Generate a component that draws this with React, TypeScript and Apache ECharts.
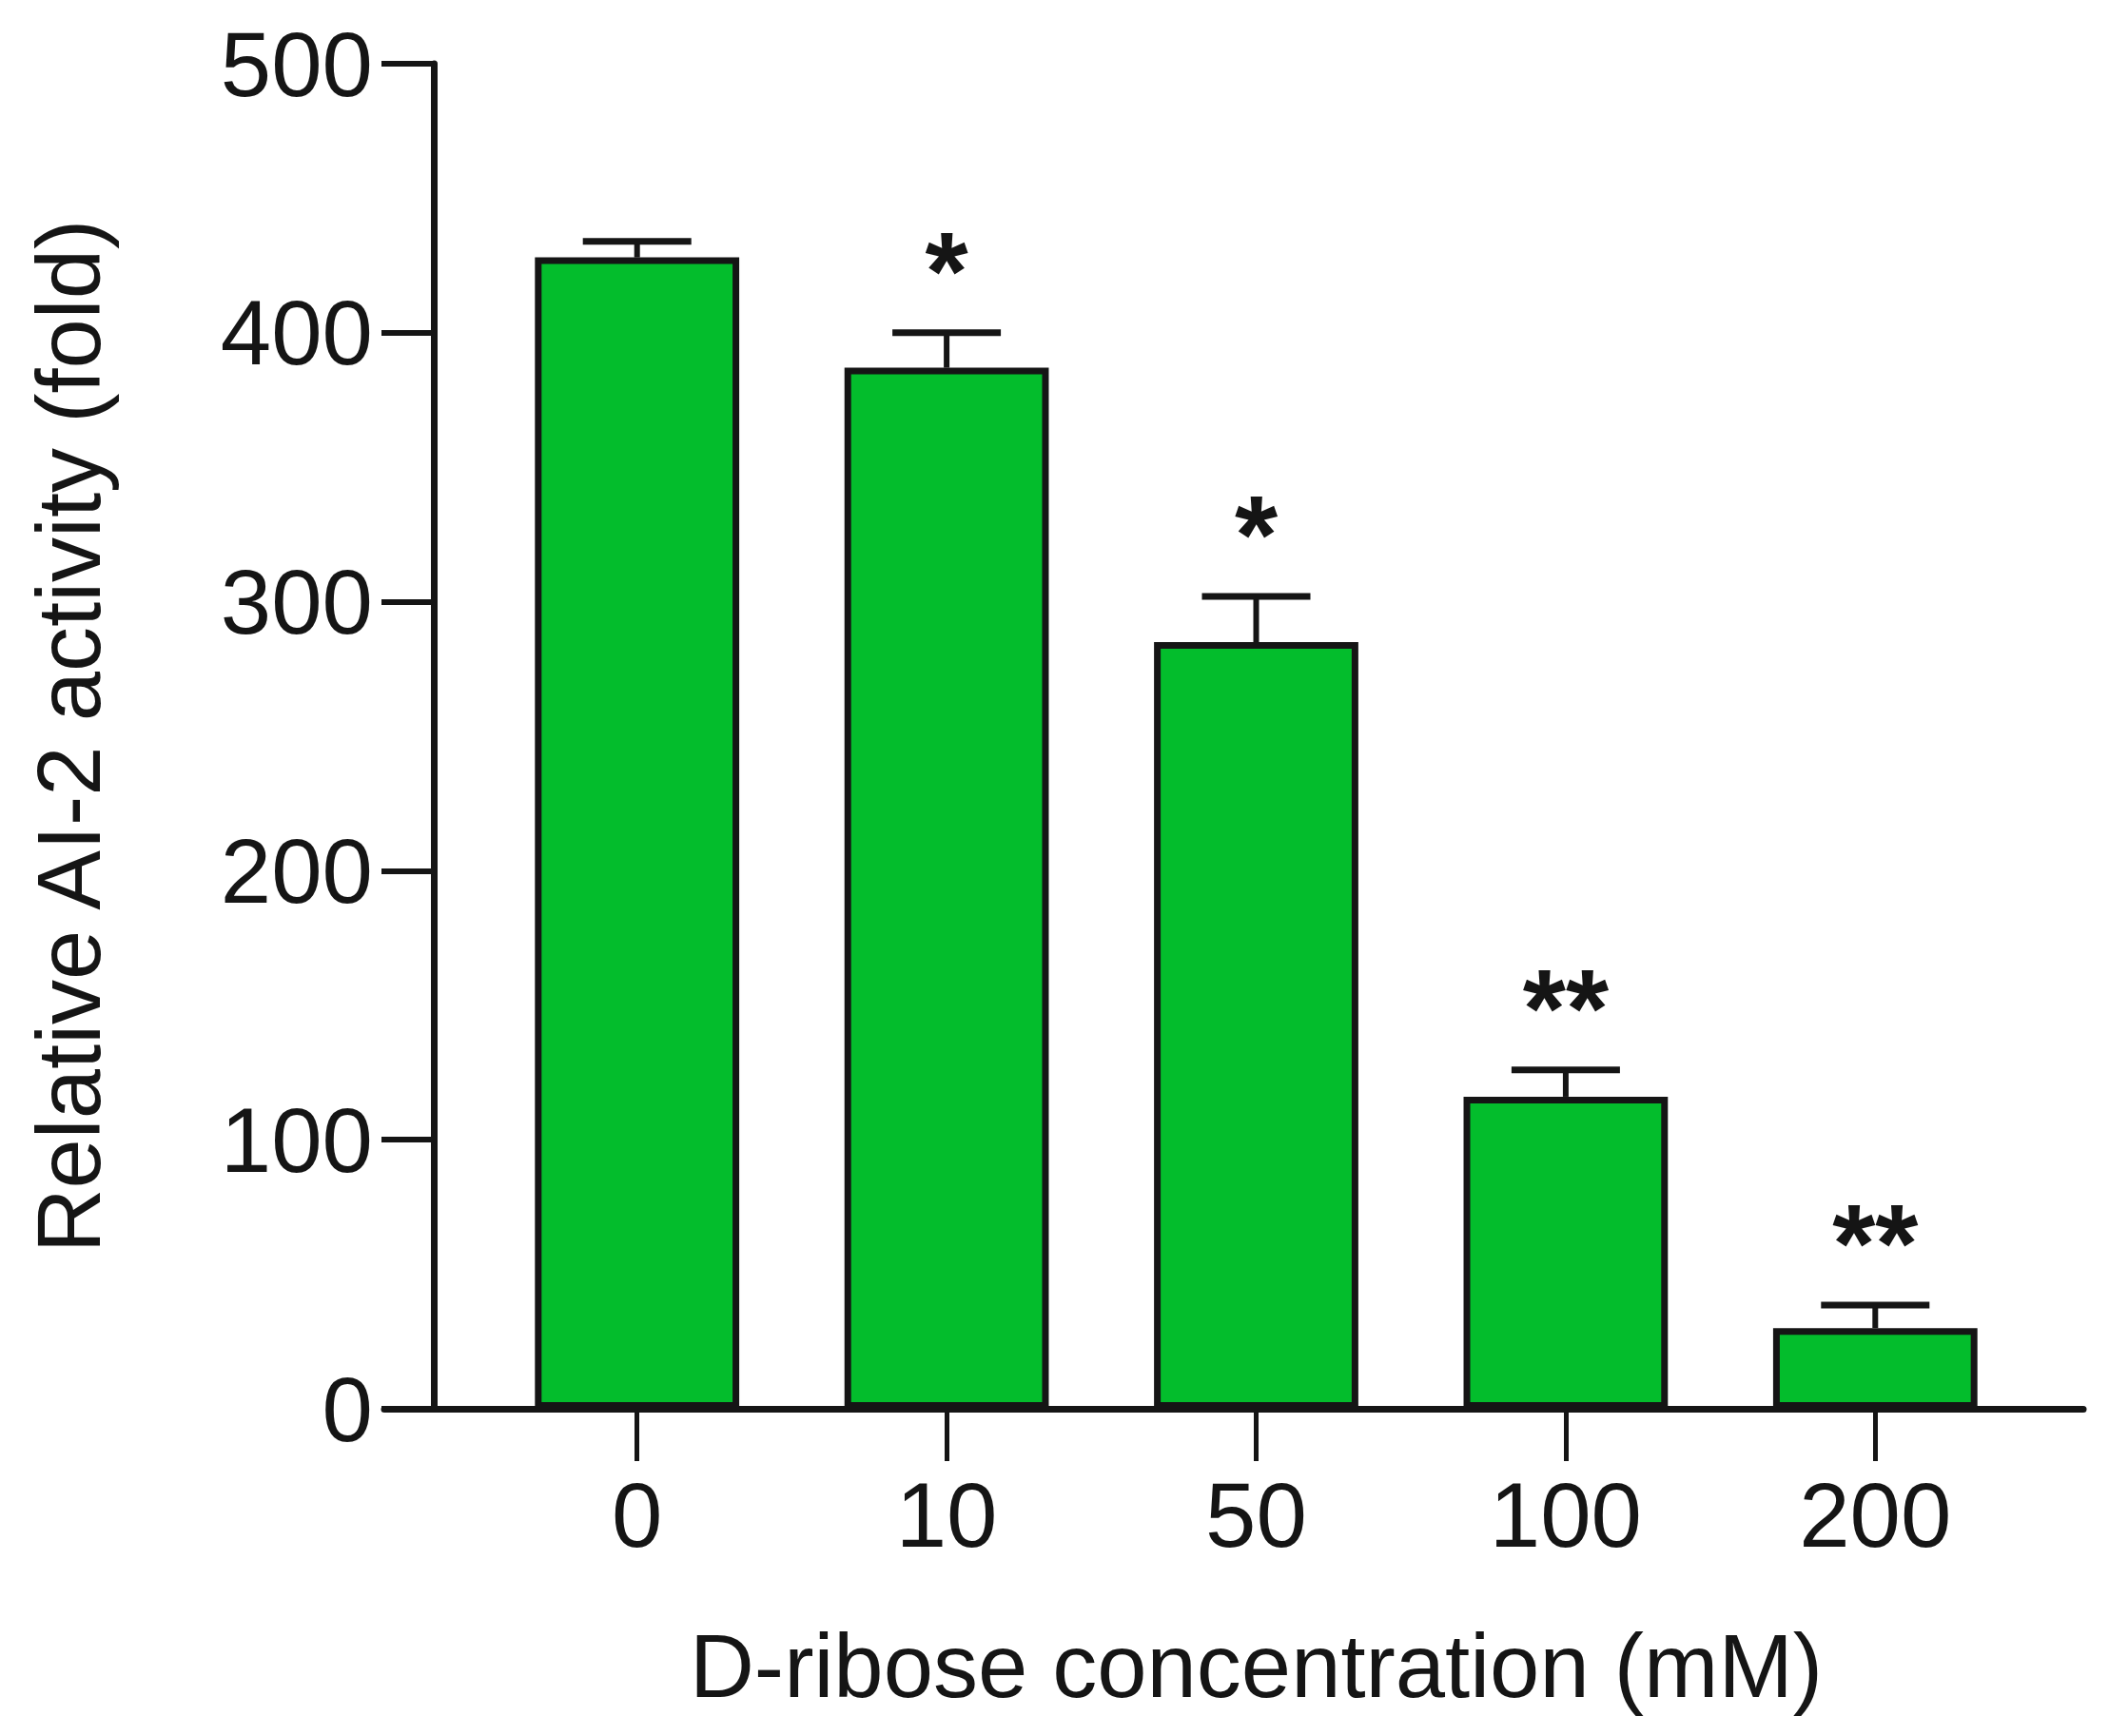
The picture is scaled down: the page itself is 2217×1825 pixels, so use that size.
import React, { useEffect, useRef } from "react";
import * as echarts from "echarts";

const categories = ["0", "10", "50", "100", "200"];
const means = [428, 387, 285, 116, 30];
const errors = [6, 13, 17, 10, 8.5];
const stars = ["", "*", "*", "**", "**"];
const yMin = 0;
const yMax = 500;
const yInterval = 100;

const FONT = "'Liberation Sans', Arial, Helvetica, sans-serif";
const INK = "#151515";
const GREEN = "#03bd2c";

export default function App() {
  const ref = useRef<HTMLDivElement>(null);
  useEffect(() => {
    if (!ref.current) return;
    const chart = echarts.init(ref.current, undefined, { renderer: "svg" });
    const option: any = {
      animation: false,
      backgroundColor: "#ffffff",
      grid: [
        { left: 507, right: 83, top: 67, bottom: 344, outerBoundsMode: "none" },
        { left: 404, right: 27, top: 67, bottom: 344, outerBoundsMode: "none" },
      ],
      xAxis: [
        {
          type: "category",
          gridIndex: 0,
          data: categories,
          axisLine: { show: false },
          axisTick: { show: true, alignWithLabel: true, length: 55, lineStyle: { width: 5, color: INK } },
          axisLabel: { margin: 63, fontSize: 96, color: INK, fontFamily: FONT },
          splitLine: { show: false },
          name: "D-ribose concentration (mM)",
          nameLocation: "middle",
          nameGap: 223,
          nameTextStyle: { fontSize: 94, color: INK, fontFamily: FONT },
        },
        {
          type: "value",
          gridIndex: 1,
          min: 0,
          max: 1,
          axisLine: { show: true, onZero: false, lineStyle: { width: 7, color: INK } },
          axisTick: { show: false },
          axisLabel: { show: false },
          splitLine: { show: false },
        },
      ],
      yAxis: [
        {
          type: "value",
          gridIndex: 0,
          min: yMin,
          max: yMax,
          interval: yInterval,
          offset: 51,
          axisLine: { show: true, onZero: false, lineStyle: { width: 7, color: INK } },
          axisTick: { show: true, length: 55, lineStyle: { width: 6, color: INK } },
          axisLabel: { margin: 64, fontSize: 96, color: INK, fontFamily: FONT },
          splitLine: { show: false },
          name: "Relative AI-2 activity (fold)",
          nameLocation: "middle",
          nameRotate: 90,
          nameGap: 337,
          nameTextStyle: { fontSize: 94, color: INK, fontFamily: FONT },
        },
        { type: "value", gridIndex: 1, min: 0, max: 1, show: false },
      ],
      series: [
        {
          type: "bar",
          xAxisIndex: 0,
          yAxisIndex: 0,
          data: means,
          barWidth: "66%",
          itemStyle: { color: GREEN, borderColor: INK, borderWidth: 7 },
          z: 2,
        },
        {
          type: "custom",
          xAxisIndex: 0,
          yAxisIndex: 0,
          z: 3,
          encode: { x: 0, y: 1 },
          data: means.map((m, i) => [i, m, errors[i]]),
          renderItem: (params: any, api: any) => {
            const i = api.value(0);
            const m = api.value(1);
            const e = api.value(2);
            const p0 = api.coord([i, m]);
            const p1 = api.coord([i, m + e]);
            const x = p0[0];
            const children: any[] = [
              { type: "line", shape: { x1: x, y1: p0[1], x2: x, y2: p1[1] }, style: { stroke: INK, lineWidth: 6 } },
              { type: "line", shape: { x1: x - 57, y1: p1[1], x2: x + 57, y2: p1[1] }, style: { stroke: INK, lineWidth: 7 } },
            ];
            const s = stars[params.dataIndex];
            if (s) {
              children.push({
                type: "text",
                x,
                y: p1[1] - 64,
                style: {
                  text: s,
                  fontSize: 116,
                  fontWeight: "bold",
                  fontFamily: FONT,
                  fill: INK,
                  align: "center",
                  verticalAlign: "middle",
                },
              });
            }
            return { type: "group", children };
          },
        },
      ],
    };
    chart.setOption(option);
    return () => chart.dispose();
  }, []);
  return (
    <div
      ref={ref}
      style={{ position: "absolute", left: 0, top: 0, width: 2217, height: 1825 }}
    />
  );
}
